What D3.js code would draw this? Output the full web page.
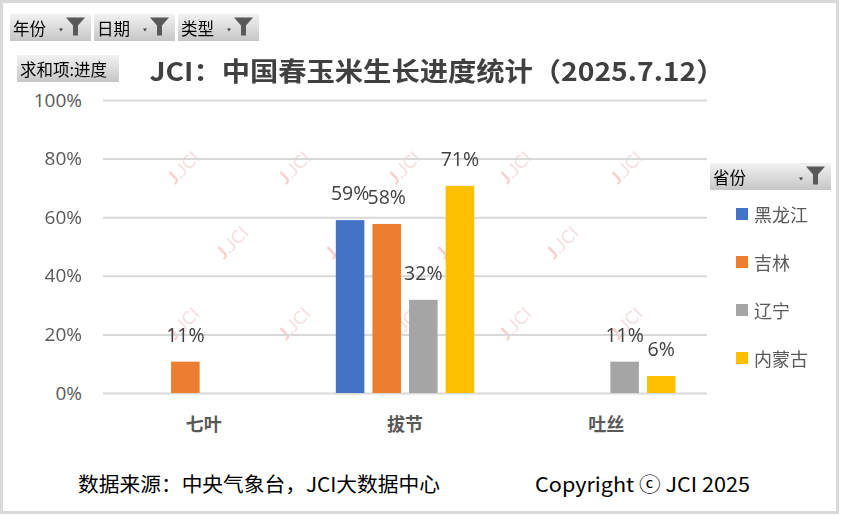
<!DOCTYPE html>
<html>
<head>
<meta charset="utf-8">
<script src="https://cdn.jsdelivr.net/npm/d3@7"></script>
<style>
  body { margin: 0; background: #fff; }
  svg { display: block; font-family: "Noto Sans CJK SC", "Noto Sans", sans-serif; }
</style>
</head>
<body>
<script>
// chart data
var categories = ["七叶", "拔节", "吐丝"];
var provinces = ["黑龙江", "吉林", "辽宁", "内蒙古"];
var colors = ["#4472c4", "#ed7d31", "#a5a5a5", "#ffc000"];
var heilongjiang = [null, 0.59, null];
var jilin = [0.107, 0.577, null];
var liaoning = [null, 0.318, 0.107];
var neimenggu = [null, 0.707, 0.058];
var yTicks = [0, 0.2, 0.4, 0.6, 0.8, 1];
var filterLabels = ["年份", "日期", "类型"];

var width = 842;
var height = 516;
var plotLeft = 103, plotRight = 707, plotTop = 100, plotBottom = 393;

var series = [heilongjiang, jilin, liaoning, neimenggu];
var data = [];
series.forEach((vals, si) => {
  vals.forEach((v, ci) => {
    if (v != null) data.push({ cat: categories[ci], prov: provinces[si], value: v, color: colors[si] });
  });
});

var svg = d3.select("body").append("svg")
  .attr("width", width)
  .attr("height", height);

// gradient for the pivot buttons
var grad = svg.append("defs").append("linearGradient")
  .attr("id", "btn").attr("x1", 0).attr("y1", 0).attr("x2", 0).attr("y2", 1);
grad.append("stop").attr("offset", "0%").attr("stop-color", "#f2f2f2");
grad.append("stop").attr("offset", "100%").attr("stop-color", "#c6c6c6");

// outer frame
svg.append("rect")
  .attr("x", 1.5).attr("y", 1.5)
  .attr("width", width - 6).attr("height", height - 5)
  .attr("fill", "#fff")
  .attr("stroke", "#d9d9d9")
  .attr("stroke-width", 3);

// scales
var x0 = d3.scaleBand().domain(categories).range([plotLeft, plotRight]);
var x1 = d3.scaleBand().domain(provinces).range([0, x0.bandwidth()])
  .paddingInner(0.22).paddingOuter(0.86);
var y = d3.scaleLinear().domain([0, 1]).range([plotBottom, plotTop]);

// watermarks
var wmRows = [
  { y: 167, xs: [183, 294, 404, 515, 626] },
  { y: 242, xs: [232, 341, 452, 562] },
  { y: 323, xs: [183, 294, 404, 515, 626] }
];
var wm = svg.append("g").attr("opacity", 0.22);
wmRows.forEach(r => {
  r.xs.forEach(xx => {
    var t = wm.append("text")
      .attr("transform", "translate(" + xx + "," + r.y + ") rotate(-45)")
      .attr("text-anchor", "middle")
      .attr("dominant-baseline", "central")
      .style("font-family", "Lato, sans-serif")
      .style("font-size", "18px");
    t.append("tspan").attr("fill", "#e02020").style("font-weight", "bold").text("J");
    t.append("tspan").attr("fill", "#d07070").text(".JCI");
  });
});

// y axis with gridlines
var yAxis = d3.axisLeft(y)
  .tickValues(yTicks)
  .tickFormat(d3.format(".0%"))
  .tickSizeInner(-(plotRight - plotLeft))
  .tickSizeOuter(0)
  .tickPadding(21);

var gy = svg.append("g")
  .attr("transform", "translate(" + plotLeft + ",0)")
  .call(yAxis);
gy.select(".domain").remove();
gy.selectAll(".tick line").attr("stroke", "#d9d9d9").attr("stroke-width", 2);
gy.selectAll(".tick text")
  .attr("fill", "#595959")
  .style("font-family", "'Open Sans', 'Noto Sans', sans-serif")
  .style("font-size", "19px");

// x axis
var xAxis = d3.axisBottom(x0).tickSize(0).tickPadding(25);
var gx = svg.append("g")
  .attr("transform", "translate(0," + plotBottom + ")")
  .call(xAxis);
gx.select(".domain").remove();
gx.selectAll(".tick text")
  .attr("fill", "#595959")
  .style("font-family", "'Noto Sans CJK SC', sans-serif")
  .style("font-weight", "bold")
  .style("font-size", "18px");

// bars
svg.append("g").selectAll("rect")
  .data(data)
  .enter()
    .append("rect")
    .attr("x", d => x0(d.cat) + x1(d.prov))
    .attr("y", d => y(d.value))
    .attr("width", x1.bandwidth())
    .attr("height", d => plotBottom - y(d.value))
    .attr("fill", d => d.color);

// value labels
svg.append("g").selectAll("text")
  .data(data)
  .enter()
    .append("text")
    .attr("x", d => x0(d.cat) + x1(d.prov) + x1.bandwidth() / 2)
    .attr("y", d => y(d.value) - 20)
    .attr("text-anchor", "middle")
    .attr("fill", "#404040")
    .style("font-family", "'Open Sans', 'Noto Sans', sans-serif")
    .style("font-size", "19.5px")
    .text(d => d3.format(".0%")(d.value));

// title
svg.append("text")
  .attr("x", 437)
  .attr("y", 69)
  .attr("text-anchor", "middle")
  .attr("dominant-baseline", "central")
  .attr("fill", "#404040")
  .attr("textLength", 575)
  .attr("lengthAdjust", "spacingAndGlyphs")
  .style("font-weight", "bold")
  .style("font-size", "26px")
  .text("JCI：中国春玉米生长进度统计（2025.7.12）");

// pivot buttons
function drawFunnel(g, fx, fy) {
  g.append("path")
    .attr("d", "M" + (fx - 7) + "," + (fy + 1) + "h4l-2,3z")
    .attr("fill", "#404040");
  g.append("path")
    .attr("d", "M" + fx + "," + (fy - 10) + "h19l-7,8v10h-5v-10z")
    .attr("fill", "#595959");
}

function drawButton(bx, by, bw, bh, label, funnel) {
  var g = svg.append("g");
  g.append("rect")
    .attr("x", bx).attr("y", by)
    .attr("width", bw).attr("height", bh)
    .attr("fill", "url(#btn)");
  g.append("text")
    .attr("x", bx + 3)
    .attr("y", by + bh / 2)
    .attr("dominant-baseline", "central")
    .attr("fill", "#000")
    .style("font-size", "16.5px")
    .text(label);
  if (funnel) drawFunnel(g, bx + bw - 25, by + bh / 2);
}

filterLabels.forEach((lbl, i) => {
  drawButton(10 + i * 84, 14, 81, 27, lbl, true);
});
drawButton(17, 55, 102, 27, "求和项:进度", false);
drawButton(710, 163, 121, 27, "省份", true);

// legend
var legend = svg.append("g").attr("transform", "translate(736,214)");
provinces.forEach((p, i) => {
  var item = legend.append("g").attr("transform", "translate(0," + i * 48 + ")");
  item.append("rect")
    .attr("x", 0).attr("y", -6)
    .attr("width", 12).attr("height", 12)
    .attr("fill", colors[i]);
  item.append("text")
    .attr("x", 18)
    .attr("y", 0)
    .attr("dominant-baseline", "central")
    .attr("fill", "#595959")
    .style("font-size", "18px")
    .text(p);
});

// footer
svg.append("text")
  .attr("x", 78)
  .attr("y", 483)
  .attr("dominant-baseline", "central")
  .attr("fill", "#000")
  .attr("textLength", 362)
  .attr("lengthAdjust", "spacingAndGlyphs")
  .style("font-size", "20px")
  .text("数据来源：中央气象台，JCI大数据中心");

svg.append("text")
  .attr("x", 535)
  .attr("y", 483)
  .attr("dominant-baseline", "central")
  .attr("fill", "#000")
  .attr("textLength", 215)
  .attr("lengthAdjust", "spacingAndGlyphs")
  .style("font-size", "20px")
  .text("Copyright ⓒ JCI 2025");
</script>
</body>
</html>
